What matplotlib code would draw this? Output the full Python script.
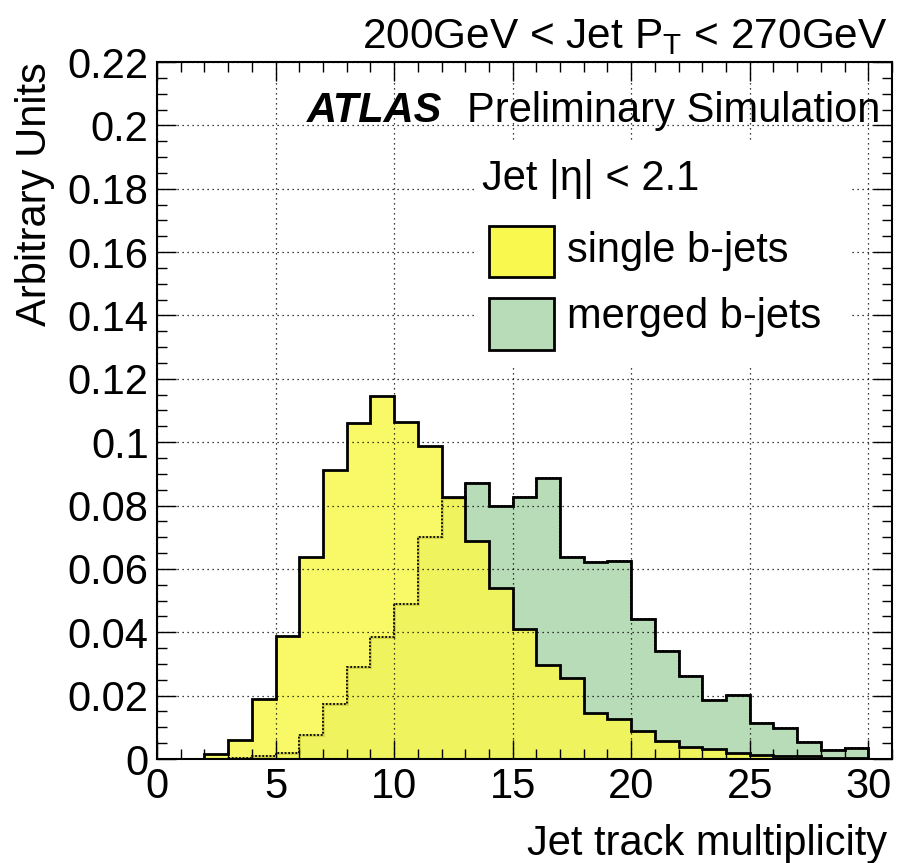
import matplotlib
matplotlib.use("Agg")
import matplotlib.pyplot as plt
from matplotlib.patches import Rectangle
from matplotlib.ticker import MultipleLocator, FormatStrFormatter
import numpy as np

plt.rcParams['font.family'] = ['Liberation Sans', 'DejaVu Sans']
plt.rcParams['mathtext.fontset'] = 'custom'
plt.rcParams['mathtext.rm'] = 'Liberation Sans'
plt.rcParams['mathtext.it'] = 'Liberation Sans:italic'

# bin edges: jet track multiplicity 0..30, unit bins
edges = np.arange(0, 31)

single_bjets = [0, 0, 0.0015, 0.006, 0.0189, 0.0389, 0.0637, 0.0912, 0.1062, 0.1146,
                0.1065, 0.0988, 0.0826, 0.0689, 0.0539, 0.041, 0.0297, 0.0257, 0.0144, 0.0126,
                0.0088, 0.0057, 0.0039, 0.0032, 0.0018, 0.0013, 0.001, 0.0009, 0.0004, 0.0002]
merged_bjets = [0, 0, 0, 0.0003, 0.001, 0.0018, 0.0076, 0.0174, 0.0291, 0.0386,
                0.0488, 0.07, 0.0823, 0.087, 0.0799, 0.0826, 0.0888, 0.0637, 0.0623, 0.0625,
                0.0441, 0.0341, 0.0262, 0.0186, 0.0202, 0.0113, 0.0097, 0.0055, 0.0028, 0.0036]

labels = ["single b-jets", "merged b-jets"]
yellow = "#f8f84e"
green = "#b8dbb8"
fs = 30

W, H = 898, 863
fig = plt.figure(figsize=(W / 100, H / 100), dpi=100)


def fx(px):
    return px / W


def fy(py):
    return 1 - py / H


ax = fig.add_axes([fx(157), fy(759), fx(892) - fx(157), fy(62) - fy(759)])

# fills: green first, yellow drawn over it
ax.stairs(merged_bjets, edges, fill=True, color=green, zorder=1)
ax.stairs(merged_bjets, edges, color="black", lw=2.0, zorder=1.1)
ax.stairs(single_bjets, edges, fill=True, color=yellow, alpha=0.85, zorder=1.2)
ax.stairs(merged_bjets, edges, color="black", lw=1.3, ls=(0, (1, 1)), zorder=1.3)
ax.stairs(single_bjets, edges, color="black", lw=2.0, zorder=1.4)

ax.set_xlim(0, 31)
ax.set_ylim(0, 0.22)
ax.xaxis.set_major_locator(MultipleLocator(5))
ax.xaxis.set_minor_locator(MultipleLocator(1))
ax.yaxis.set_major_locator(MultipleLocator(0.02))
ax.yaxis.set_minor_locator(MultipleLocator(0.005))
ax.yaxis.set_major_formatter(FormatStrFormatter('%g'))

ax.set_axisbelow(False)
ax.grid(True, which='major', color='black', ls=(0, (1, 3)), lw=0.9)

ax.tick_params(which='both', direction='in', top=True, right=True, width=1.0,
               labelsize=fs)
ax.tick_params(which='major', length=14)
ax.tick_params(which='minor', length=7)
ax.tick_params(axis='x', pad=6)
ax.tick_params(axis='y', pad=6)
for s in ax.spines.values():
    s.set_linewidth(1.5)

# white legend area covering the grid
ax.add_artist(Rectangle((fx(476), fy(365)), fx(851) - fx(476), fy(140) - fy(365),
                        transform=fig.transFigure, facecolor='white', edgecolor='none',
                        zorder=3))

fig.text(fx(35), fy(62), "Arbitrary Units", rotation=90, ha='center', va='top', fontsize=fs)
fig.text(fx(887), fy(855), "Jet track multiplicity", ha='right', va='baseline', fontsize=fs)

fig.text(fx(888), fy(48), r"200GeV < Jet P$_{\mathrm{T}}$ < 270GeV", ha='right',
         va='baseline', fontsize=30.5)
fig.text(fx(307), fy(122), "ATLAS", ha='left', va='baseline', fontsize=fs,
         fontweight='bold', fontstyle='italic', zorder=4)
fig.text(fx(880), fy(122), "Preliminary Simulation", ha='right', va='baseline',
         fontsize=fs, zorder=4)
fig.text(fx(482), fy(190), "Jet |η| < 2.1", ha='left', va='baseline', fontsize=fs, zorder=4)

# legend entries
for (top, bottom, base), col, lab in zip([(226, 277, 262), (298, 350, 328)],
                                          [yellow, green], labels):
    fig.patches.append(Rectangle((fx(489), fy(bottom)), fx(554) - fx(489), fy(top) - fy(bottom),
                                 transform=fig.transFigure, facecolor=col,
                                 edgecolor='black', lw=2.0, zorder=5))
    fig.text(fx(567), fy(base), lab, ha='left', va='baseline', fontsize=fs, zorder=5)

fig.savefig("out.png", dpi=100)
